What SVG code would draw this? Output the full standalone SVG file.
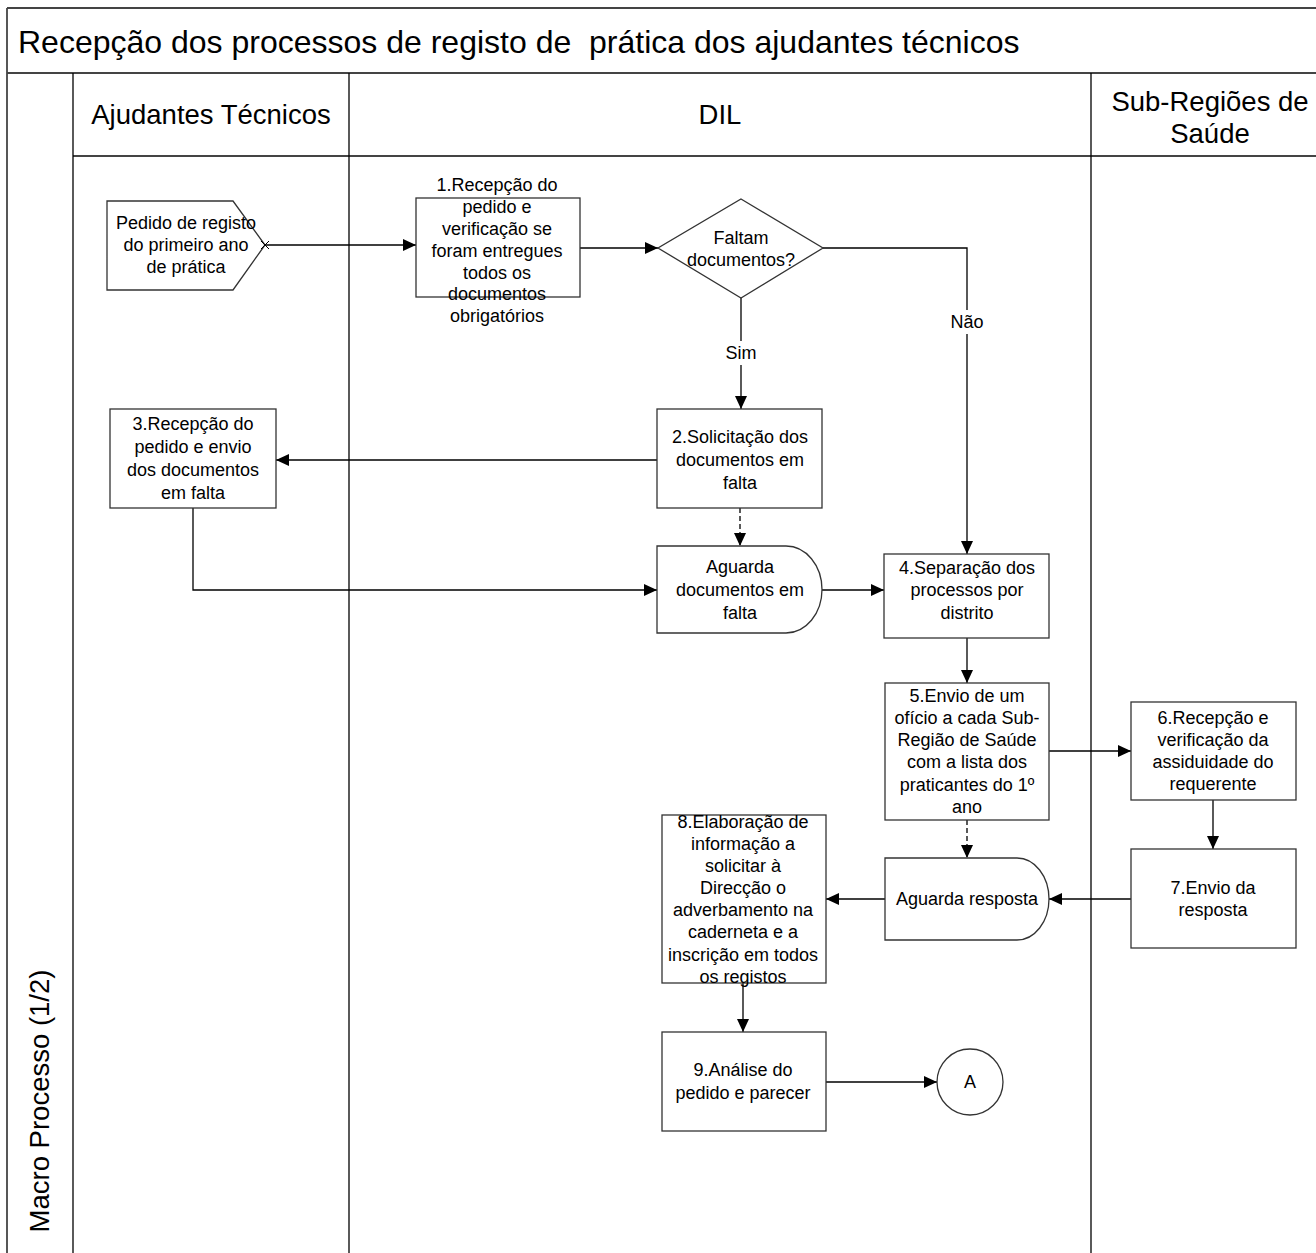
<svg xmlns="http://www.w3.org/2000/svg" width="1316" height="1253" viewBox="0 0 1316 1253">
<style>
text{font-family:"Liberation Sans",Arial,sans-serif;fill:#000}
.t{font-size:18px;text-anchor:middle}
.h{font-size:27.5px;text-anchor:middle}
.frame{stroke:#444;stroke-width:1.8;fill:none}
.lane{stroke:#000;stroke-width:1.3;fill:none}
.box{fill:#fff;stroke:#333;stroke-width:1.3}
.c{stroke:#000;stroke-width:1.3;fill:none;marker-end:url(#ah)}
.d{stroke-dasharray:5,3}
</style>
<defs>
<marker id="ah" markerUnits="userSpaceOnUse" markerWidth="13" markerHeight="12" refX="13" refY="6" orient="auto">
<path d="M0,0 L13,6 L0,12 Z" fill="#000"/>
</marker>
</defs>
<rect width="1316" height="1253" fill="#fff"/>
<g id="pool">
<line class="frame" x1="7" y1="8" x2="1316" y2="8"/>
<line class="frame" x1="7" y1="8" x2="7" y2="1253"/>
<line class="frame" x1="7" y1="73" x2="1316" y2="73"/>
<line class="frame" x1="73" y1="156" x2="1316" y2="156"/>
<line class="lane" x1="73" y1="73" x2="73" y2="1253"/>
<line class="lane" x1="349" y1="73" x2="349" y2="1253"/>
<line class="lane" x1="1091" y1="73" x2="1091" y2="1253"/>
<text x="18" y="53" style="font-size:32px">Recepção dos processos de registo de&#160; prática dos ajudantes técnicos</text>
<text class="h" x="211" y="124">Ajudantes Técnicos</text>
<text class="h" x="720" y="124">DIL</text>
<text class="h" x="1210" y="111">Sub-Regiões de</text>
<text class="h" x="1210" y="143">Saúde</text>
<text class="h" transform="translate(49,1101) rotate(-90)" x="0" y="0">Macro Processo (1/2)</text>
</g>
<g id="connectors">
<path class="c" d="M265,245 H416"/>
<path class="c" d="M580,248 H658"/>
<path class="c" d="M741,298 V409"/>
<path class="c" d="M823,248 H967 V554"/>
<path class="c" d="M657,460 H276"/>
<path class="c d" d="M740,508 V546"/>
<path class="c" d="M193,508 V590 H657"/>
<path class="c" d="M822,590 H884"/>
<path class="c" d="M967,638 V683"/>
<path class="c" d="M1049,751 H1131"/>
<path class="c" d="M1213,800 V849"/>
<path class="c d" d="M967,820 V858"/>
<path class="c" d="M1131,899 H1049"/>
<path class="c" d="M885,899 H826"/>
<path class="c" d="M743,983 V1032"/>
<path class="c" d="M826,1082 H937"/>
<rect x="725" y="341" width="32" height="24" fill="#fff"/>
<text class="t" x="741" y="359">Sim</text>
<rect x="950" y="310" width="34" height="24" fill="#fff"/>
<text class="t" x="967" y="328">Não</text>
</g>
<g id="n0">
<polygon class="box" points="107,201 233,201 265,245 233,290 107,290"/>
<path d="M261,241 L269,249 M261,249 L269,241" stroke="#000" stroke-width="1"/>
<text class="t" x="186" y="229">Pedido de registo</text>
<text class="t" x="186" y="251">do primeiro ano</text>
<text class="t" x="186" y="273">de prática</text>
</g>
<g id="n1">
<rect class="box" x="416" y="198" width="164" height="99"/>
<text class="t" x="497" y="191">1.Recepção do</text>
<text class="t" x="497" y="213">pedido e</text>
<text class="t" x="497" y="235">verificação se</text>
<text class="t" x="497" y="257">foram entregues</text>
<text class="t" x="497" y="279">todos os</text>
<text class="t" x="497" y="300">documentos</text>
<text class="t" x="497" y="322">obrigatórios</text>
</g>
<g id="decision">
<polygon class="box" points="741,199 823,248 741,298 658,248"/>
<text class="t" x="741" y="244">Faltam</text>
<text class="t" x="741" y="266">documentos?</text>
</g>
<g id="n2">
<rect class="box" x="657" y="409" width="165" height="99"/>
<text class="t" x="740" y="443">2.Solicitação dos</text>
<text class="t" x="740" y="466">documentos em</text>
<text class="t" x="740" y="489">falta</text>
</g>
<g id="n3">
<rect class="box" x="110" y="409" width="166" height="99"/>
<text class="t" x="193" y="430">3.Recepção do</text>
<text class="t" x="193" y="453">pedido e envio</text>
<text class="t" x="193" y="476">dos documentos</text>
<text class="t" x="193" y="499">em falta</text>
</g>
<g id="wait1">
<path class="box" d="M657,546 H786 A36,43.5 0 0 1 786,633 H657 Z"/>
<text class="t" x="740" y="573">Aguarda</text>
<text class="t" x="740" y="596">documentos em</text>
<text class="t" x="740" y="619">falta</text>
</g>
<g id="n4">
<rect class="box" x="884" y="554" width="165" height="84"/>
<text class="t" x="967" y="574">4.Separação dos</text>
<text class="t" x="967" y="596">processos por</text>
<text class="t" x="967" y="619">distrito</text>
</g>
<g id="n5">
<rect class="box" x="885" y="683" width="164" height="137"/>
<text class="t" x="967" y="702">5.Envio de um</text>
<text class="t" x="967" y="724">ofício a cada Sub-</text>
<text class="t" x="967" y="746">Região de Saúde</text>
<text class="t" x="967" y="768">com a lista dos</text>
<text class="t" x="967" y="791">praticantes do 1º</text>
<text class="t" x="967" y="813">ano</text>
</g>
<g id="n6">
<rect class="box" x="1131" y="702" width="165" height="98"/>
<text class="t" x="1213" y="724">6.Recepção e</text>
<text class="t" x="1213" y="746">verificação da</text>
<text class="t" x="1213" y="768">assiduidade do</text>
<text class="t" x="1213" y="790">requerente</text>
</g>
<g id="n7">
<rect class="box" x="1131" y="849" width="165" height="99"/>
<text class="t" x="1213" y="894">7.Envio da</text>
<text class="t" x="1213" y="916">resposta</text>
</g>
<g id="wait2">
<path class="box" d="M885,858 H1017 A32,41 0 0 1 1017,940 H885 Z"/>
<text class="t" x="967" y="905">Aguarda resposta</text>
</g>
<g id="n8">
<rect class="box" x="662" y="815" width="164" height="168"/>
<text class="t" x="743" y="828">8.Elaboração de</text>
<text class="t" x="743" y="850">informação a</text>
<text class="t" x="743" y="872">solicitar à</text>
<text class="t" x="743" y="894">Direcção o</text>
<text class="t" x="743" y="916">adverbamento na</text>
<text class="t" x="743" y="938">caderneta e a</text>
<text class="t" x="743" y="961">inscrição em todos</text>
<text class="t" x="743" y="983">os registos</text>
</g>
<g id="n9">
<rect class="box" x="662" y="1032" width="164" height="99"/>
<text class="t" x="743" y="1076">9.Análise do</text>
<text class="t" x="743" y="1099">pedido e parecer</text>
</g>
<g id="connA">
<circle class="box" cx="970" cy="1082" r="33"/>
<text class="t" x="970" y="1088">A</text>
</g>
</svg>
